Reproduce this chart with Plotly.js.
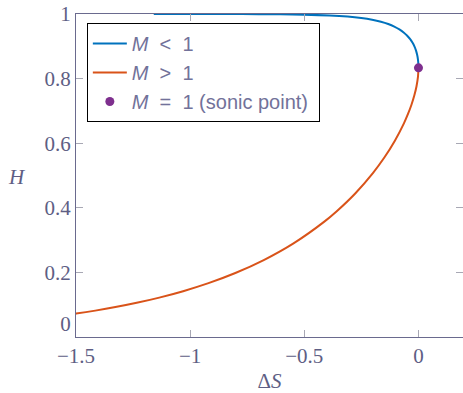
<!DOCTYPE html>
<html>
<head>
<meta charset="utf-8">
<script src="https://cdn.plot.ly/plotly-3.0.1.min.js"></script>
<style>
html,body{margin:0;padding:0;background:#fff;overflow:hidden;}
#chart{width:463px;height:393px;}
</style>
</head>
<body>
<div id="chart"></div>
<script>
// Subsonic branch (M < 1)
var subsonicS = [-1.1595, -0.9615, -0.8457, -0.7001, -0.6044, -0.5033, -0.3896, -0.3104, -0.2505, -0.2030, -0.1644, -0.1325, -0.1059, -0.0836, -0.0649, -0.0493, -0.0363, -0.0258, -0.0173, -0.0107, -0.00585, -0.00252, -0.00061, 0];
var subsonicH = [0.99998, 0.99992, 0.99982, 0.9995, 0.99902, 0.998, 0.99552, 0.99206, 0.98765, 0.98232, 0.97609, 0.96899, 0.96108, 0.95238, 0.94295, 0.93284, 0.92208, 0.91075, 0.89888, 0.88652, 0.87374, 0.86059, 0.84710, 0.83333];
// Supersonic branch (M > 1)
var supersonicS = [0, -0.00225, -0.00857, -0.01834, -0.03108, -0.04636, -0.06381, -0.10398, -0.1495, -0.19875, -0.27701, -0.35795, -0.41237, -0.54725, -0.67771, -0.80203, -0.91968, -1.03068, -1.13533, -1.23408, -1.32736, -1.41564, -1.49931, -1.57881];
var supersonicH = [0.83333, 0.80515, 0.77640, 0.74738, 0.71839, 0.68966, 0.66138, 0.60680, 0.55556, 0.50813, 0.44444, 0.38941, 0.35714, 0.28986, 0.23810, 0.19802, 0.16667, 0.14184, 0.12195, 0.10582, 0.09259, 0.08163, 0.07246, 0.06472];
// Sonic point
var sonicS = [0];
var sonicH = [0.83333];
var seriesNames = ['<i>M</i>&nbsp;&nbsp;&lt;&nbsp;&nbsp;1', '<i>M</i>&nbsp;&nbsp;&gt;&nbsp;&nbsp;1', '<i>M</i>&nbsp;&nbsp;=&nbsp;&nbsp;1 (sonic point)&nbsp;'];
var xTicks = [-1.5, -1, -0.5, 0];
var yTicks = [0, 0.2, 0.4, 0.6, 0.8, 1];
var yTickText = ['0<br>&nbsp;', '0.2', '0.4', '0.6', '0.8', '1'];

var axisCol = '#6a6a8e';
var textCol = '#5e5e84';
var legendTextCol = '#72729a';
var tickCol = '#a8a8b4';

var traces = [
  {x: subsonicS, y: subsonicH, mode: 'lines', name: seriesNames[0],
   line: {color: '#0072BD', width: 2, shape: 'spline', smoothing: 0.8}},
  {x: supersonicS, y: supersonicH, mode: 'lines', name: seriesNames[1],
   line: {color: '#D95319', width: 2, shape: 'spline', smoothing: 0.8}},
  {x: sonicS, y: sonicH, mode: 'markers', name: seriesNames[2],
   marker: {color: '#7E2F8E', size: 9}, cliponaxis: false}
];

var serif = 'Liberation Serif, serif';
var layout = {
  width: 463, height: 393,
  margin: {l: 76, r: 0, t: 14, b: 56},
  paper_bgcolor: '#fff', plot_bgcolor: '#fff',
  showlegend: true,
  legend: {
    x: 0.028, y: 0.972, xanchor: 'left', yanchor: 'top',
    bgcolor: '#fff', bordercolor: '#000', borderwidth: 1,
    font: {family: 'Liberation Sans, sans-serif', size: 20, color: legendTextCol},
    itemwidth: 34, tracegroupgap: 0
  },
  xaxis: {
    range: [-1.5, 0.195], tickvals: xTicks, ticks: 'inside', ticklen: 7, tickcolor: tickCol,
    showline: true, linecolor: axisCol, linewidth: 1, mirror: 'allticks',
    showgrid: false, zeroline: false,
    tickfont: {family: serif, size: 21, color: textCol},
    title: {text: 'Δ<i>S</i>', font: {family: serif, size: 21, color: textCol}, standoff: 14}
  },
  yaxis: {
    range: [0, 1], tickvals: yTicks, ticktext: yTickText, ticks: 'inside', ticklen: 7, tickcolor: tickCol,
    showline: true, linecolor: axisCol, linewidth: 1, mirror: 'allticks',
    showgrid: false, zeroline: false,
    tickfont: {family: serif, size: 21, color: textCol}
  },
  annotations: [{
    text: '<i>H</i>', xref: 'paper', yref: 'paper', x: -0.152, y: 0.495,
    xanchor: 'center', yanchor: 'middle', showarrow: false,
    font: {family: serif, size: 21, color: textCol}
  }]
};
Plotly.newPlot('chart', traces, layout, {displayModeBar: false, staticPlot: true});
</script>
</body>
</html>
